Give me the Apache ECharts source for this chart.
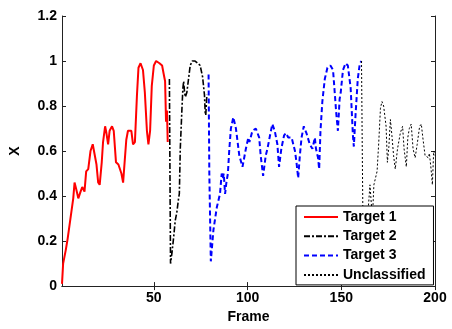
<!DOCTYPE html>
<html>
<head>
<meta charset="utf-8">
<script src="https://cdn.jsdelivr.net/npm/echarts@6/dist/echarts.min.js"></script>
<style>html,body{margin:0;padding:0;background:#fff;}#c{width:452px;height:329px;}</style>
</head>
<body>
<div id="c"></div>
<script>
// ---- data ----
const seriesNames = ['Target 1', 'Target 2', 'Target 3', 'Unclassified'];
const xTickValues = [50, 100, 150, 200];
const yTickLabels = ['0', '0.2', '0.4', '0.6', '0.8', '1', '1.2'];

const t1Frames = [1,1.6,3,4,5,6,7,7.7,8.6,9.7,10.9,11.8,13,13.9,15,16.2,17.4,18.3,19.4,20.3,21.1,22.2,22.9,24,24.7,25.6,26.4,27.7,28.6,29.8,31.1,32.7,33.6,34.4,35.3,36.2,38,38.9,39.9,41,41.8,42.9,44.2,45.2,46.3,47.1,48,48.9,50,51.2,53,54.4,55.3,56,56.5,57,57.4];
const t1Values = [0.01,0.10,0.16,0.21,0.27,0.33,0.39,0.46,0.43,0.39,0.42,0.44,0.42,0.51,0.52,0.60,0.63,0.63,0.54,0.46,0.45,0.55,0.64,0.71,0.68,0.63,0.69,0.71,0.69,0.55,0.54,0.50,0.46,0.55,0.65,0.69,0.69,0.63,0.64,0.85,0.97,0.99,0.96,0.86,0.69,0.63,0.69,0.89,0.98,1.0,0.99,0.98,0.94,0.91,0.73,0.78,0.64];

const t2Frames = [58.3,58.6,58.9,59.7,60.6,61.4,62.3,63.2,63.6,64.1,64.6,65,65.5,65.9,66.4,66.8,67.6,68.5,69.4,70.5,72,73.5,74.7,76,77,77.4,77.7,78.3];
const t2Values = [0.92,0.50,0.10,0.15,0.22,0.29,0.33,0.39,0.41,0.61,0.71,0.79,0.88,0.91,0.86,0.84,0.86,0.92,0.98,1.0,1.0,0.99,0.98,0.93,0.85,0.77,0.76,0.85];

const t3Frames = [79.2,79.6,80.4,81.0,81.8,82.7,83.6,85.3,86.2,86.8,87.3,88,88.7,89.5,90.2,91.1,92.4,93.8,95.6,97.3,99.1,100.4,101,102.6,104.4,106.2,107,108.3,109.7,110.6,112,113.2,114.5,115.9,116.8,118,119.5,120.5,121.7,123.5,125.3,126.1,127,127.9,128.8,130,131.4,133.2,134.6,135.9,136.5,137.6,138.2,138.9,139.9,141.2,142.6,144.2,145.6,146.5,147.3,148.2,149.1,149.7,150.9,152.3,153.5,155,156.2,156.7,157.6,158.8,159.9,160.8];
const t3Values = [0.94,0.50,0.11,0.17,0.25,0.30,0.35,0.41,0.50,0.48,0.50,0.41,0.46,0.50,0.60,0.70,0.75,0.70,0.58,0.53,0.61,0.66,0.64,0.69,0.70,0.66,0.58,0.49,0.58,0.61,0.67,0.72,0.69,0.63,0.53,0.61,0.67,0.68,0.66,0.66,0.60,0.55,0.48,0.58,0.66,0.71,0.68,0.63,0.61,0.66,0.61,0.57,0.52,0.69,0.82,0.92,0.97,0.98,0.96,0.86,0.77,0.69,0.83,0.86,0.96,0.99,0.98,0.88,0.67,0.62,0.76,0.92,0.99,1.0];

const uFrames = [160.8,161.2,161.6,162.5,164,165.3,165.9,166.6,167.4,168.1,169.1,170,170.9,171.7,172.6,173.9,174.6,175.4,176.2,177.0,177.9,178.8,180.0,181.5,182.7,183.5,184.7,185.5,186.3,187.3,188.3,189.4,190.5,191.8,192.7,193.5,194.7,196.5,197.0,197.9,198.6,199.3,200];
const uValues = [1.0,0.60,0.25,0.20,0.30,0.45,0.45,0.30,0.45,0.45,0.51,0.64,0.79,0.82,0.80,0.71,0.55,0.62,0.74,0.67,0.58,0.52,0.61,0.68,0.71,0.61,0.53,0.66,0.70,0.72,0.61,0.57,0.63,0.71,0.72,0.66,0.58,0.57,0.59,0.52,0.45,0.60,0.58];

// ---- chart ----
const zip = (xs, ys) => xs.map((x, i) => [x, ys[i]]);
const FONT = '"Liberation Sans", Arial, Helvetica, sans-serif';
const chart = echarts.init(document.getElementById('c'), null, {renderer: 'canvas'});

const axisLine = {show: true, lineStyle: {color: '#222', width: 1}};
const tick = {show: true, inside: true, length: 4, lineStyle: {color: '#222'}};

chart.setOption({
  animation: false,
  backgroundColor: '#fff',
  grid: {left: 59, right: 17, top: 16, bottom: 40, containLabel: false},
  xAxis: [
    {type: 'value', min: 1, max: 200, position: 'bottom',
     axisLine: axisLine,
     axisTick: Object.assign({}, tick, {customValues: xTickValues}),
     axisLabel: {customValues: xTickValues, fontFamily: FONT, fontSize: 14, fontWeight: 'bold', color: '#000', margin: 5},
     splitLine: {show: false},
     name: 'Frame', nameLocation: 'middle', nameGap: 20,
     nameTextStyle: {fontFamily: FONT, fontSize: 14, fontWeight: 'bold', color: '#000'}},
    {type: 'value', min: 1, max: 200, position: 'top',
     axisLine: axisLine,
     axisTick: Object.assign({}, tick, {customValues: xTickValues}),
     axisLabel: {show: false}, splitLine: {show: false}}
  ],
  yAxis: [
    {type: 'value', min: 0, max: 1.2, interval: 0.2, position: 'left',
     axisLine: axisLine, axisTick: tick,
     axisLabel: {fontFamily: FONT, fontSize: 14, fontWeight: 'bold', color: '#000', margin: 5,
       formatter: (v) => yTickLabels[Math.round(v / 0.2)]},
     splitLine: {show: false},
     name: 'X', nameLocation: 'middle', nameGap: 40,
     nameTextStyle: {fontFamily: FONT, fontSize: 14, fontWeight: 'bold', color: '#000'}},
    {type: 'value', min: 0, max: 1.2, interval: 0.2, position: 'right',
     axisLine: axisLine, axisTick: tick, axisLabel: {show: false}, splitLine: {show: false}}
  ],
  legend: {
    data: seriesNames,
    orient: 'vertical', left: 296, top: 206,
    backgroundColor: '#fff', borderColor: '#000', borderWidth: 1, borderRadius: 0,
    padding: [4, 8, 3, 7], itemGap: 5.3, itemWidth: 34, itemHeight: 14,
    itemStyle: {opacity: 0, borderWidth: 0},
    textStyle: {fontFamily: FONT, fontSize: 14, fontWeight: 'bold', color: '#000'}
  },
  series: [
    {name: seriesNames[0], type: 'line', data: zip(t1Frames, t1Values), showSymbol: false, symbol: 'none',
     lineStyle: {color: '#ff0000', width: 2, type: 'solid'}, itemStyle: {color: '#ff0000'}},
    {name: seriesNames[1], type: 'line', data: zip(t2Frames, t2Values), showSymbol: false, symbol: 'none',
     lineStyle: {color: '#000000', width: 1.6, type: [6, 2, 2, 2]}, itemStyle: {color: '#000000'}},
    {name: seriesNames[2], type: 'line', data: zip(t3Frames, t3Values), showSymbol: false, symbol: 'none',
     lineStyle: {color: '#0000ff', width: 2, type: [5, 3]}, itemStyle: {color: '#0000ff'}},
    {name: seriesNames[3], type: 'line', data: zip(uFrames, uValues), showSymbol: false, symbol: 'none',
     lineStyle: {color: '#000000', width: 1, type: [2, 2]}, itemStyle: {color: '#000000'}}
  ]
});
</script>
</body>
</html>
